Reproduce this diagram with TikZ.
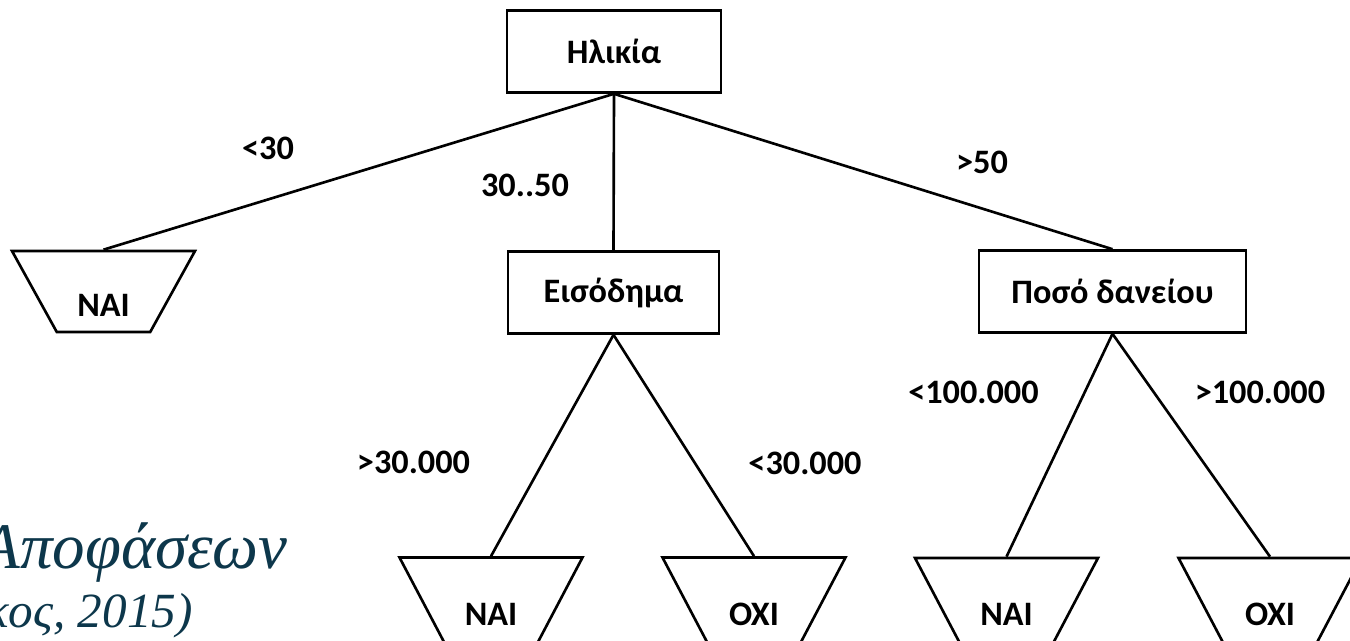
\documentclass[tikz,border=0pt]{standalone}
\usepackage{fontspec}
\setmainfont{Carlito}
\newfontfamily\captionfont{Liberation Serif}
\usetikzlibrary{shapes.geometric}
\definecolor{captionblue}{RGB}{13,55,75}

\tikzset{
  test/.style={draw, line width=1.5pt, rectangle, minimum height=1.64cm, inner sep=0pt, font=\bfseries\fontsize{19.5}{22}\selectfont},
  leaf/.style={draw, line width=1.5pt, trapezium, trapezium angle=48.7, shape border rotate=180, trapezium stretches body, minimum width=3.66cm, minimum height=1.62cm, inner sep=0pt, text height=29pt, text depth=0pt, font=\bfseries\fontsize{19.5}{22}\selectfont},
  branch/.style={font=\bfseries\fontsize{19.5}{22}\selectfont, inner sep=0pt},
  conn/.style={line width=1.5pt}
}

\begin{document}
\begin{tikzpicture}[x=0.02cm, y=-0.02cm]
    \useasboundingbox (0, 0) rectangle (1350, 640);

    % Nodes
    \path (614, 51.5) node [test, minimum width=4.28cm] (age) {Ηλικία};
    \path (613.5, 292.5) node [test, minimum width=4.22cm] (income) {Εισόδημα};
    \path (1112.5, 291.5) node [test, minimum width=5.34cm] (loan) {Ποσό δανείου};
    \path (103.5, 291.5) node [leaf] (young) {NAI};
    \path (491, 600) node [leaf, minimum height=1.7cm] (richyes) {NAI};
    \path (754, 600) node [leaf, minimum height=1.7cm] (poorno) {OXI};
    \path (1006.5, 600.5) node [leaf, minimum height=1.7cm] (smallyes) {NAI};
    \path (1270, 600.5) node [leaf, minimum height=1.7cm] (bigno) {OXI};

    % Connections
    \draw [conn] (age.south) -- (young.north);
    \draw [conn] (age.south) -- (income.north);
    \draw [conn] (age.south) -- (loan.north);
    \draw [conn] (income.south) -- (richyes.north);
    \draw [conn] (income.south) -- (poorno.north);
    \draw [conn] (loan.south) -- (smallyes.north);
    \draw [conn] (loan.south) -- (bigno.north);

    % Labels
    \path (268, 148) node [branch] (lt30) {<30};
    \path (525, 185) node [branch] (mid) {30..50};
    \path (982, 162) node [branch] (gt50) {>50};
    \path (413.5, 462) node [branch] (gtinc) {>30.000};
    \path (805, 463) node [branch] (ltinc) {<30.000};
    \path (973.5, 392) node [branch] (ltloan) {<100.000};
    \path (1260, 392) node [branch] (gtloan) {>100.000};

    % Caption
    \path (288, 568) node [anchor=base east, inner sep=0pt, text=captionblue, font=\captionfont\itshape\fontsize{37}{42}\selectfont] (title) {Αποφάσεων};
    \path (193, 627) node [anchor=base east, inner sep=0pt, text=captionblue, font=\captionfont\itshape\fontsize{28}{32}\selectfont] (source) {κος, 2015)};
  \end{tikzpicture}
\end{document}
